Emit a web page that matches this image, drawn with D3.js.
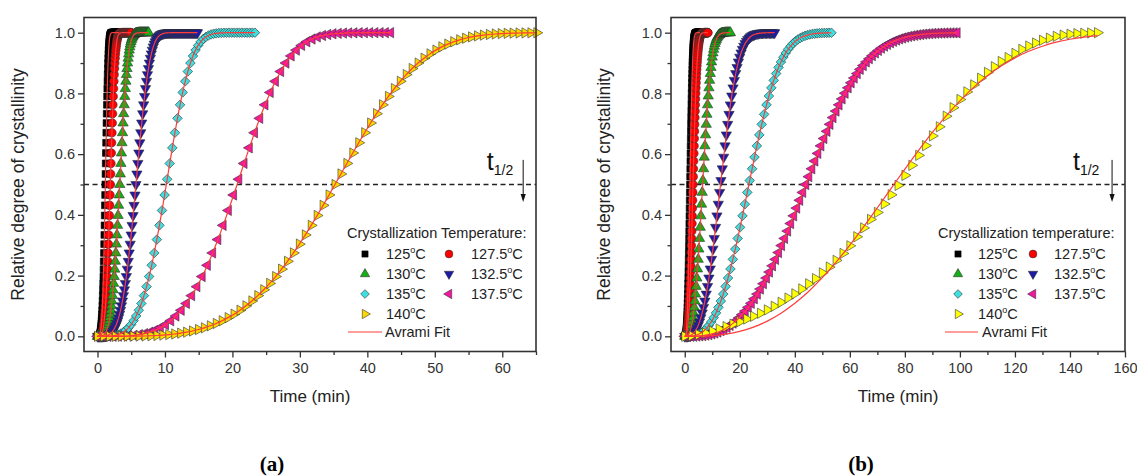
<!DOCTYPE html>
<html><head><meta charset="utf-8">
<script src="https://cdn.jsdelivr.net/npm/d3@7"></script>
<style>body{margin:0;background:#fff;}svg{display:block;}</style>
</head><body>
<svg id="c" width="1137" height="476"></svg>
<script>
// ---------------- DATA ----------------
const temps = ["125","127.5","130","132.5","135","137.5","140"];
// sampling interval (min) of each measured series, panel (a)
const stepA = [0.029, 0.0475, 0.0825, 0.1425, 0.3825, 0.776, 0.88];
// relative crystallinity values, panel (a)
const a125 = [0,0,0,0,0.0001,0.0002,0.0004,0.0007,0.0011,0.0018,0.0027,0.0040,0.0056,0.0077,0.0104,0.0136,0.0176,0.0224,0.0280,0.0347,0.0424,0.0513,0.0615,0.0730,0.0859,0.1004,0.1164,0.1340,0.1533,0.1743,0.1969,0.2212,0.2471,0.2746,0.3036,0.3339,0.3654,0.3980,0.4314,0.4655,0.5000,0.5347,0.5694,0.6037,0.6375,0.6705,0.7025,0.7332,0.7624,0.7901,0.8159,0.8399,0.8619,0.8819,0.9000,0.9160,0.9302,0.9426,0.9533,0.9624,0.9701,0.9765,0.9817,0.9860,0.9894,0.9920,0.9941,0.9957,0.9969,0.9978,0.9985,0.9990,0.9993,0.9995,0.9997,0.9998,0.9999,0.9999,1,1,1,1,1,1,1,1,1,1,1,1,1,1,1,1,1,1,1,1,1,1,1,1,1,1,1,1,1,1,1,1,1];
const a127 = [0,0,0,0,0.0001,0.0002,0.0004,0.0007,0.0011,0.0018,0.0027,0.0040,0.0056,0.0077,0.0104,0.0136,0.0176,0.0224,0.0280,0.0347,0.0424,0.0513,0.0615,0.0730,0.0859,0.1004,0.1164,0.1340,0.1533,0.1743,0.1969,0.2212,0.2471,0.2746,0.3036,0.3339,0.3654,0.3980,0.4314,0.4655,0.5000,0.5347,0.5694,0.6037,0.6375,0.6705,0.7025,0.7332,0.7624,0.7901,0.8159,0.8399,0.8619,0.8819,0.9000,0.9160,0.9302,0.9426,0.9533,0.9624,0.9701,0.9765,0.9817,0.9860,0.9894,0.9920,0.9941,0.9957,0.9969,0.9978,0.9985,0.9990,0.9993,0.9995,0.9997,0.9998,0.9999,0.9999,1,1,1,1,1,1,1,1,1,1,1,1,1,1,1,1,1,1,1,1,1,1,1,1,1,1,1,1];
const a130 = [0,0,0,0,0.0001,0.0002,0.0004,0.0007,0.0011,0.0018,0.0027,0.0040,0.0056,0.0077,0.0104,0.0136,0.0176,0.0224,0.0280,0.0347,0.0424,0.0513,0.0615,0.0730,0.0859,0.1004,0.1164,0.1340,0.1533,0.1743,0.1969,0.2212,0.2471,0.2746,0.3036,0.3339,0.3654,0.3980,0.4314,0.4655,0.5000,0.5347,0.5694,0.6037,0.6375,0.6705,0.7025,0.7332,0.7624,0.7901,0.8159,0.8399,0.8619,0.8819,0.9000,0.9160,0.9302,0.9426,0.9533,0.9624,0.9701,0.9765,0.9817,0.9860,0.9894,0.9920,0.9941,0.9957,0.9969,0.9978,0.9985,0.9990,0.9993,0.9995,0.9997,0.9998,0.9999,0.9999,1,1,1,1,1,1,1,1,1,1,1,1,1,1,1];
const a132 = [0,0,0,0,0.0001,0.0002,0.0004,0.0007,0.0011,0.0018,0.0027,0.0040,0.0056,0.0077,0.0104,0.0136,0.0176,0.0224,0.0280,0.0347,0.0424,0.0513,0.0615,0.0730,0.0859,0.1004,0.1164,0.1340,0.1533,0.1743,0.1969,0.2212,0.2471,0.2746,0.3036,0.3339,0.3654,0.3980,0.4314,0.4655,0.5000,0.5347,0.5694,0.6037,0.6375,0.6705,0.7025,0.7332,0.7624,0.7901,0.8159,0.8399,0.8619,0.8819,0.9000,0.9160,0.9302,0.9426,0.9533,0.9624,0.9701,0.9765,0.9817,0.9860,0.9894,0.9920,0.9941,0.9957,0.9969,0.9978,0.9985,0.9990,0.9993,0.9995,0.9997,0.9998,0.9999,0.9999,1,1,1,1,1,1,1,1,1,1,1,1,1,1,1,1,1,1,1,1,1,1,1,1,1,1,1];
const a135 = [0,0,0,0.0001,0.0004,0.0009,0.0018,0.0033,0.0056,0.0090,0.0136,0.0199,0.0280,0.0384,0.0513,0.0670,0.0859,0.1082,0.1340,0.1636,0.1969,0.2340,0.2746,0.3186,0.3654,0.4146,0.4655,0.5173,0.5694,0.6207,0.6705,0.7180,0.7624,0.8032,0.8399,0.8722,0.9000,0.9234,0.9426,0.9580,0.9701,0.9792,0.9860,0.9908,0.9941,0.9964,0.9978,0.9988,0.9993,0.9996,0.9998,0.9999,1,1,1,1,1,1,1,1,1,1];
const a137 = [0,0,0,0.0001,0.0004,0.0009,0.0018,0.0033,0.0056,0.0090,0.0136,0.0199,0.0280,0.0384,0.0513,0.0670,0.0859,0.1082,0.1340,0.1636,0.1969,0.2340,0.2746,0.3186,0.3654,0.4146,0.4655,0.5173,0.5694,0.6207,0.6705,0.7180,0.7624,0.8032,0.8399,0.8722,0.9000,0.9234,0.9426,0.9580,0.9701,0.9792,0.9860,0.9908,0.9941,0.9964,0.9978,0.9988,0.9993,0.9996,0.9998,0.9999,1,1,1,1,1];
const a140 = [0,0,0,0,0.0001,0.0002,0.0004,0.0007,0.0011,0.0018,0.0027,0.0040,0.0056,0.0077,0.0104,0.0136,0.0176,0.0224,0.0280,0.0347,0.0424,0.0513,0.0615,0.0730,0.0859,0.1004,0.1164,0.1340,0.1533,0.1743,0.1969,0.2212,0.2471,0.2746,0.3036,0.3339,0.3654,0.3980,0.4314,0.4655,0.5000,0.5347,0.5694,0.6037,0.6375,0.6705,0.7025,0.7332,0.7624,0.7901,0.8159,0.8399,0.8619,0.8819,0.9000,0.9160,0.9302,0.9426,0.9533,0.9624,0.9701,0.9765,0.9817,0.9860,0.9894,0.9920,0.9941,0.9957,0.9969,0.9978,0.9985,0.9990,0.9993,0.9995,0.9997];

// sampling interval (min), panel (b)
const stepB = [0.0475, 0.075, 0.244, 0.4875, 0.874, 1.1, 2.5];
const b125 = [0,0,0.0001,0.0003,0.0007,0.0014,0.0023,0.0037,0.0055,0.0079,0.0108,0.0143,0.0185,0.0235,0.0293,0.0359,0.0434,0.0518,0.0612,0.0716,0.0830,0.0954,0.1089,0.1235,0.1391,0.1557,0.1733,0.1920,0.2116,0.2321,0.2535,0.2758,0.2988,0.3224,0.3467,0.3715,0.3967,0.4222,0.4481,0.4740,0.5000,0.5259,0.5517,0.5773,0.6025,0.6273,0.6515,0.6752,0.6981,0.7203,0.7417,0.7623,0.7819,0.8006,0.8183,0.8350,0.8507,0.8654,0.8792,0.8919,0.9036,0.9144,0.9243,0.9333,0.9415,0.9489,0.9556,0.9615,0.9668,0.9715,0.9756,0.9793,0.9824,0.9852,0.9876,0.9896,0.9914,0.9929,0.9941,0.9952,0.9961,0.9968,0.9974,0.9980,0.9984,0.9987,0.9990,0.9992,0.9994,0.9995,0.9996,0.9997,0.9997,1,1,1,1,1,1,1,1,1,1,1,1,1,1,1,1,1,1,1,1,1,1,1,1];
const b127 = [0,0,0.0001,0.0003,0.0007,0.0014,0.0023,0.0037,0.0055,0.0079,0.0108,0.0143,0.0185,0.0235,0.0293,0.0359,0.0434,0.0518,0.0612,0.0716,0.0830,0.0954,0.1089,0.1235,0.1391,0.1557,0.1733,0.1920,0.2116,0.2321,0.2535,0.2758,0.2988,0.3224,0.3467,0.3715,0.3967,0.4222,0.4481,0.4740,0.5000,0.5259,0.5517,0.5773,0.6025,0.6273,0.6515,0.6752,0.6981,0.7203,0.7417,0.7623,0.7819,0.8006,0.8183,0.8350,0.8507,0.8654,0.8792,0.8919,0.9036,0.9144,0.9243,0.9333,0.9415,0.9489,0.9556,0.9615,0.9668,0.9715,0.9756,0.9793,0.9824,0.9852,0.9876,0.9896,0.9914,0.9929,0.9941,0.9952,0.9961,0.9968,0.9974,0.9980,0.9984,0.9987,0.9990,0.9992,0.9994,0.9995,0.9996,0.9997,0.9997,1,1,1,1,1,1,1,1,1,1,1,1,1,1,1,1,1,1,1,1];
const b130 = [0,0,0.0003,0.0010,0.0023,0.0046,0.0079,0.0125,0.0185,0.0263,0.0359,0.0475,0.0612,0.0772,0.0954,0.1161,0.1391,0.1644,0.1920,0.2218,0.2535,0.2872,0.3224,0.3590,0.3967,0.4351,0.4740,0.5130,0.5517,0.5900,0.6273,0.6634,0.6981,0.7311,0.7623,0.7914,0.8183,0.8430,0.8654,0.8856,0.9036,0.9195,0.9333,0.9453,0.9556,0.9642,0.9715,0.9775,0.9824,0.9864,0.9896,0.9922,0.9941,0.9957,0.9968,0.9977,0.9984,0.9988,0.9992,0.9995,0.9996,0.9997,0.9998,1,1,1,1,1,1];
const b132 = [0,0,0.0003,0.0010,0.0023,0.0046,0.0079,0.0125,0.0185,0.0263,0.0359,0.0475,0.0612,0.0772,0.0954,0.1161,0.1391,0.1644,0.1920,0.2218,0.2535,0.2872,0.3224,0.3590,0.3967,0.4351,0.4740,0.5130,0.5517,0.5900,0.6273,0.6634,0.6981,0.7311,0.7623,0.7914,0.8183,0.8430,0.8654,0.8856,0.9036,0.9195,0.9333,0.9453,0.9556,0.9642,0.9715,0.9775,0.9824,0.9864,0.9896,0.9922,0.9941,0.9957,0.9968,0.9977,0.9984,0.9988,0.9992,0.9995,0.9996,0.9997,0.9998,1,1,1,1,1];
const b135 = [0,0,0.0003,0.0010,0.0023,0.0046,0.0079,0.0125,0.0185,0.0263,0.0359,0.0475,0.0612,0.0772,0.0954,0.1161,0.1391,0.1644,0.1920,0.2218,0.2535,0.2872,0.3224,0.3590,0.3967,0.4351,0.4740,0.5130,0.5517,0.5900,0.6273,0.6634,0.6981,0.7311,0.7623,0.7914,0.8183,0.8430,0.8654,0.8856,0.9036,0.9195,0.9333,0.9453,0.9556,0.9642,0.9715,0.9775,0.9824,0.9864,0.9896,0.9922,0.9941,0.9957,0.9968,0.9977,0.9984,0.9988,0.9992,0.9995,0.9996,0.9997];
const b137 = [0,0,0.0001,0.0003,0.0007,0.0014,0.0023,0.0037,0.0055,0.0079,0.0108,0.0143,0.0185,0.0235,0.0293,0.0359,0.0434,0.0518,0.0612,0.0716,0.0830,0.0954,0.1089,0.1235,0.1391,0.1557,0.1733,0.1920,0.2116,0.2321,0.2535,0.2758,0.2988,0.3224,0.3467,0.3715,0.3967,0.4222,0.4481,0.4740,0.5000,0.5259,0.5517,0.5773,0.6025,0.6273,0.6515,0.6752,0.6981,0.7203,0.7417,0.7623,0.7819,0.8006,0.8183,0.8350,0.8507,0.8654,0.8792,0.8919,0.9036,0.9144,0.9243,0.9333,0.9415,0.9489,0.9556,0.9615,0.9668,0.9715,0.9756,0.9793,0.9824,0.9852,0.9876,0.9896,0.9914,0.9929,0.9941,0.9952,0.9961,0.9968,0.9974,0.9980,0.9984,0.9987,0.9990,0.9992,0.9994,0.9995,0.9996];
const b140 = [0,0.002,0.006,0.011,0.017,0.024,0.032,0.040,0.048,0.057,0.066,0.076,0.087,0.099,0.112,0.126,0.140,0.156,0.173,0.190,0.209,0.228,0.250,0.273,0.298,0.328,0.357,0.385,0.408,0.436,0.466,0.497,0.530,0.563,0.596,0.628,0.660,0.690,0.725,0.753,0.780,0.805,0.828,0.850,0.869,0.888,0.905,0.918,0.932,0.945,0.956,0.966,0.975,0.982,0.988,0.992,0.995,0.997,0.998,0.999,1.0];
// separate Avrami fit curve for 140 °C in panel (b), every 5 min
const fitB140Step = 5;
const fitB140 = [0,0.0003,0.0024,0.0073,0.0164,0.0304,0.050,0.076,0.1086,0.1477,0.1931,0.2444,0.3006,0.3606,0.4234,0.4872,0.5507,0.6126,0.6714,0.7260,0.7755,0.8197,0.8580,0.8903,0.9171,0.9387,0.9554,0.9687,0.9784,0.9855,0.9904];

// axis ticks
const yMajor = [0, 0.2, 0.4, 0.6, 0.8, 1.0];
const yMinor = [0.1, 0.3, 0.5, 0.7, 0.9];
const xMajorA = [0, 10, 20, 30, 40, 50, 60];
const xMinorA = [5, 15, 25, 35, 45, 55, 65];
const xMajorB = [0, 20, 40, 60, 80, 100, 120, 140, 160];
const xMinorB = [10, 30, 50, 70, 90, 110, 130, 150];

// ---------------- STYLE ----------------
const FONT = '"Liberation Sans", Arial, Helvetica, sans-serif';
const colorsA = ["#000000","#ff0000","#12b012","#1b1ba6","#3de0e0","#f416a0","#ffd800"];
const colorsB = ["#000000","#ff0000","#12b012","#1b1ba6","#3de0e0","#f416a0","#ffff00"];
const shapes = ["square","circle","up","down","diamond","left","right"];
const FIT = "#ff3b3b";
const TOP = 17.5, BOTTOM = 351.5;

const svg = d3.select("#c");

function markerPath(shape, big){
  const k = big ? 1 : 0.82;
  if (shape === "square") return d3.symbol(d3.symbolSquare, 46*k)();
  if (shape === "circle") return d3.symbol(d3.symbolCircle, 58*k)();
  if (shape === "diamond") return d3.symbol(d3.symbolSquare, 46*k)();
  return d3.symbol(d3.symbolTriangle, 46*k)();
}
const rot = {square:0, circle:0, diamond:45, up:0, down:180, left:-90, right:90};

function degText(sel, num){
  sel.append("tspan").text(num);
  sel.append("tspan").text("o").attr("font-size", 9).attr("dy", -6);
  sel.append("tspan").text("C").attr("dy", 6);
}

function drawPanel(p){
  const x = d3.scaleLinear().domain(p.xDomain).range([p.left, p.right]);
  const y = d3.scaleLinear().domain([-0.05, 1.05]).range([BOTTOM, TOP]);
  const g = svg.append("g");

  const axes = g.append("g");
  axes.append("g").attr("transform", `translate(0,${BOTTOM})`)
    .call(d3.axisBottom(x).tickValues(p.xMajor).tickSize(6).tickPadding(5).tickFormat(d3.format("d")));
  axes.append("g").attr("transform", `translate(0,${BOTTOM})`)
    .call(d3.axisBottom(x).tickValues(p.xMinor).tickSize(3.5).tickFormat(""));
  axes.append("g").attr("transform", `translate(${p.left},0)`)
    .call(d3.axisLeft(y).tickValues(yMajor).tickSize(6).tickPadding(3).tickFormat(d3.format(".1f")));
  axes.append("g").attr("transform", `translate(${p.left},0)`)
    .call(d3.axisLeft(y).tickValues(yMinor).tickSize(3.5).tickFormat(""));
  axes.selectAll(".domain").remove();
  axes.selectAll(".tick line").attr("stroke", "#333").attr("stroke-width", 1.3);
  axes.selectAll(".tick text").attr("fill", "#333")
    .style("font-size", "14.5px").style("font-family", FONT);

  // half-time dashed line
  g.append("line").attr("x1", p.left).attr("x2", p.right)
    .attr("y1", y(0.5)).attr("y2", y(0.5))
    .attr("stroke", "#222").attr("stroke-width", 1.4).attr("stroke-dasharray", "5,3.5");

  // markers
  p.series.forEach((vals, i) => {
    const pts = vals.map((v, k) => ({t: k * p.steps[i], v}));
    const sh = shapes[i];
    g.append("g").selectAll("path").data(pts).join("path")
      .attr("d", markerPath(sh, true))
      .attr("transform", d => `translate(${x(d.t)},${y(d.v)}) rotate(${rot[sh]})`)
      .attr("fill", p.colors[i])
      .attr("stroke", i === 0 ? "#000" : "#333")
      .attr("stroke-width", 0.6);
  });

  // Avrami fit lines
  const line = d3.line().x(d => x(d.t)).y(d => y(d.v)).curve(d3.curveMonotoneX);
  p.fits.forEach(f => {
    const pts = f.vals.map((v, k) => ({t: k * f.step, v}));
    g.append("path").attr("d", line(pts)).attr("fill", "none")
      .attr("stroke", FIT).attr("stroke-width", 1.2);
  });

  // frame
  g.append("rect").attr("x", p.left).attr("y", TOP)
    .attr("width", p.right - p.left).attr("height", BOTTOM - TOP)
    .attr("fill", "none").attr("stroke", "#333").attr("stroke-width", 1.6);

  // t1/2 annotation
  const tt = g.append("text").attr("x", x(p.tLabelX)).attr("y", y(0.548))
    .attr("fill", "#111").style("font-family", FONT);
  tt.append("tspan").text("t").attr("font-size", 25);
  tt.append("tspan").text("1/2").attr("font-size", 14).attr("dy", 5);
  const ax = x(p.arrowX), y1 = y(0.581), y2 = y(0.442);
  g.append("line").attr("x1", ax).attr("x2", ax).attr("y1", y1).attr("y2", y2 - 6)
    .attr("stroke", "#111").attr("stroke-width", 1);
  g.append("path").attr("d", `M${ax-2.6},${y2-8}L${ax+2.6},${y2-8}L${ax},${y2}Z`).attr("fill", "#111");

  // axis titles
  g.append("text").attr("x", (p.left + p.right) / 2).attr("y", 402)
    .attr("text-anchor", "middle").attr("fill", "#222")
    .style("font-family", FONT).style("font-size", "17px").text("Time (min)");
  g.append("text").attr("transform", `translate(${p.yTitleX},${(TOP + BOTTOM) / 2}) rotate(-90)`)
    .attr("text-anchor", "middle").attr("fill", "#222")
    .style("font-family", FONT).style("font-size", "17.5px").text("Relative degree of crystallinity");

  // panel label
  g.append("text").attr("x", p.labelX).attr("y", 471).attr("text-anchor", "middle")
    .attr("fill", "#000").style("font-family", '"Liberation Serif", "DejaVu Serif", serif')
    .style("font-size", "21px").style("font-weight", "bold").text(p.label);

  // legend
  const L = p.legend;
  const lg = g.append("g").style("font-family", FONT).style("font-size", "14.5px").attr("fill", "#222");
  lg.append("text").attr("x", L.titleX).attr("y", 238).text(p.legendTitle);
  const rowsY = [254, 274, 294, 314];
  temps.forEach((tname, i) => {
    const col = i % 2;
    const row = Math.floor(i / 2);
    const mx = col === 0 ? L.m1 : L.m2;
    const tx = col === 0 ? L.t1 : L.t2;
    const sh = shapes[i];
    lg.append("path").attr("d", markerPath(sh, false))
      .attr("transform", `translate(${mx},${rowsY[row]}) rotate(${rot[sh]})`)
      .attr("fill", p.colors[i]).attr("stroke", i === 0 ? "#000" : "#333").attr("stroke-width", 0.6);
    const t = lg.append("text").attr("x", tx).attr("y", rowsY[row] + 5);
    degText(t, tname);
  });
  lg.append("line").attr("x1", L.l1).attr("x2", L.l2).attr("y1", 332).attr("y2", 332)
    .attr("stroke", FIT).attr("stroke-width", 1.2);
  lg.append("text").attr("x", L.ft).attr("y", 337).text("Avrami Fit");
}

drawPanel({
  left: 84, right: 536, xDomain: [-2, 65], xMajor: xMajorA, xMinor: xMinorA,
  series: [a125, a127, a130, a132, a135, a137, a140], steps: stepA, colors: colorsA,
  fits: [a125, a127, a130, a132, a135, a137, a140].map((v, i) => ({vals: v, step: stepA[i]})),
  tLabelX: 57.7, arrowX: 63.1, yTitleX: 23.5, label: "(a)", labelX: 272,
  legendTitle: "Crystallization Temperature:",
  legend: {titleX: 347, m1: 365, t1: 386, m2: 449, t2: 471, l1: 348, l2: 382, ft: 385}
});
drawPanel({
  left: 671, right: 1125, xDomain: [-5, 160], xMajor: xMajorB, xMinor: xMinorB,
  series: [b125, b127, b130, b132, b135, b137, b140], steps: stepB, colors: colorsB,
  fits: [b125, b127, b130, b132, b135, b137].map((v, i) => ({vals: v, step: stepB[i]}))
        .concat([{vals: fitB140, step: fitB140Step}]),
  tLabelX: 141.1, arrowX: 155.3, yTitleX: 610, label: "(b)", labelX: 861,
  legendTitle: "Crystallization temperature:",
  legend: {titleX: 938, m1: 958, t1: 978, m2: 1033, t2: 1054, l1: 945, l2: 978, ft: 982}
});
</script>
</body></html>
